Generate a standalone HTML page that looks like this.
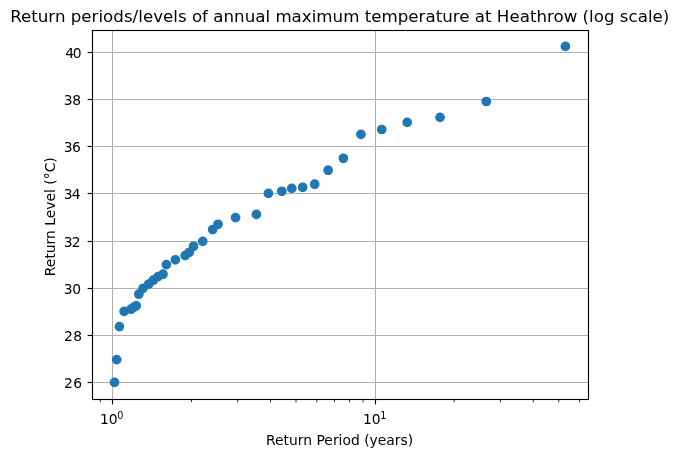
<!DOCTYPE html>
<html><head><meta charset="utf-8"><title>Return periods</title>
<style>
html,body{margin:0;padding:0;background:#fff;}
svg{display:block;will-change:transform;}
.t{font-family:"DejaVu Sans","Liberation Sans",sans-serif;font-size:13.889px;fill:#000;}
.ti{font-family:"DejaVu Sans","Liberation Sans",sans-serif;font-size:16.667px;fill:#000;}
</style></head><body>
<svg width="679" height="457" viewBox="0 0 679 457">
<rect x="0" y="0" width="679" height="457" fill="#fff"/>
<line x1="92.5" y1="52.5" x2="588.5" y2="52.5" stroke="#b0b0b0" stroke-width="1.11"/>
<line x1="92.5" y1="99.5" x2="588.5" y2="99.5" stroke="#b0b0b0" stroke-width="1.11"/>
<line x1="92.5" y1="146.5" x2="588.5" y2="146.5" stroke="#b0b0b0" stroke-width="1.11"/>
<line x1="92.5" y1="193.5" x2="588.5" y2="193.5" stroke="#b0b0b0" stroke-width="1.11"/>
<line x1="92.5" y1="241.5" x2="588.5" y2="241.5" stroke="#b0b0b0" stroke-width="1.11"/>
<line x1="92.5" y1="288.5" x2="588.5" y2="288.5" stroke="#b0b0b0" stroke-width="1.11"/>
<line x1="92.5" y1="335.5" x2="588.5" y2="335.5" stroke="#b0b0b0" stroke-width="1.11"/>
<line x1="92.5" y1="382.5" x2="588.5" y2="382.5" stroke="#b0b0b0" stroke-width="1.11"/>
<line x1="112.5" y1="30.5" x2="112.5" y2="399.5" stroke="#b0b0b0" stroke-width="1.11"/>
<line x1="375.5" y1="30.5" x2="375.5" y2="399.5" stroke="#b0b0b0" stroke-width="1.11"/>
<circle cx="565.42" cy="46.40" r="4.17" fill="#1f77b4" stroke="#1f77b4" stroke-width="1.39"/>
<circle cx="486.32" cy="101.50" r="4.17" fill="#1f77b4" stroke="#1f77b4" stroke-width="1.39"/>
<circle cx="440.04" cy="117.40" r="4.17" fill="#1f77b4" stroke="#1f77b4" stroke-width="1.39"/>
<circle cx="407.21" cy="122.40" r="4.17" fill="#1f77b4" stroke="#1f77b4" stroke-width="1.39"/>
<circle cx="381.75" cy="129.50" r="4.17" fill="#1f77b4" stroke="#1f77b4" stroke-width="1.39"/>
<circle cx="360.94" cy="134.40" r="4.17" fill="#1f77b4" stroke="#1f77b4" stroke-width="1.39"/>
<circle cx="343.35" cy="158.30" r="4.17" fill="#1f77b4" stroke="#1f77b4" stroke-width="1.39"/>
<circle cx="328.11" cy="170.20" r="4.17" fill="#1f77b4" stroke="#1f77b4" stroke-width="1.39"/>
<circle cx="314.67" cy="184.20" r="4.17" fill="#1f77b4" stroke="#1f77b4" stroke-width="1.39"/>
<circle cx="302.65" cy="187.30" r="4.17" fill="#1f77b4" stroke="#1f77b4" stroke-width="1.39"/>
<circle cx="291.77" cy="188.40" r="4.17" fill="#1f77b4" stroke="#1f77b4" stroke-width="1.39"/>
<circle cx="281.84" cy="191.30" r="4.17" fill="#1f77b4" stroke="#1f77b4" stroke-width="1.39"/>
<circle cx="268.40" cy="193.40" r="4.17" fill="#1f77b4" stroke="#1f77b4" stroke-width="1.39"/>
<circle cx="256.38" cy="214.40" r="4.17" fill="#1f77b4" stroke="#1f77b4" stroke-width="1.39"/>
<circle cx="235.57" cy="217.60" r="4.17" fill="#1f77b4" stroke="#1f77b4" stroke-width="1.39"/>
<circle cx="217.98" cy="224.30" r="4.17" fill="#1f77b4" stroke="#1f77b4" stroke-width="1.39"/>
<circle cx="212.67" cy="229.50" r="4.17" fill="#1f77b4" stroke="#1f77b4" stroke-width="1.39"/>
<circle cx="202.74" cy="241.40" r="4.17" fill="#1f77b4" stroke="#1f77b4" stroke-width="1.39"/>
<circle cx="193.61" cy="246.30" r="4.17" fill="#1f77b4" stroke="#1f77b4" stroke-width="1.39"/>
<circle cx="189.30" cy="252.30" r="4.17" fill="#1f77b4" stroke="#1f77b4" stroke-width="1.39"/>
<circle cx="185.15" cy="255.60" r="4.17" fill="#1f77b4" stroke="#1f77b4" stroke-width="1.39"/>
<circle cx="175.39" cy="259.80" r="4.17" fill="#1f77b4" stroke="#1f77b4" stroke-width="1.39"/>
<circle cx="166.40" cy="264.60" r="4.17" fill="#1f77b4" stroke="#1f77b4" stroke-width="1.39"/>
<circle cx="162.99" cy="274.20" r="4.17" fill="#1f77b4" stroke="#1f77b4" stroke-width="1.39"/>
<circle cx="158.06" cy="276.60" r="4.17" fill="#1f77b4" stroke="#1f77b4" stroke-width="1.39"/>
<circle cx="153.34" cy="280.20" r="4.17" fill="#1f77b4" stroke="#1f77b4" stroke-width="1.39"/>
<circle cx="148.81" cy="284.00" r="4.17" fill="#1f77b4" stroke="#1f77b4" stroke-width="1.39"/>
<circle cx="143.03" cy="288.40" r="4.17" fill="#1f77b4" stroke="#1f77b4" stroke-width="1.39"/>
<circle cx="138.88" cy="294.20" r="4.17" fill="#1f77b4" stroke="#1f77b4" stroke-width="1.39"/>
<circle cx="136.19" cy="305.80" r="4.17" fill="#1f77b4" stroke="#1f77b4" stroke-width="1.39"/>
<circle cx="133.57" cy="307.40" r="4.17" fill="#1f77b4" stroke="#1f77b4" stroke-width="1.39"/>
<circle cx="131.00" cy="309.20" r="4.17" fill="#1f77b4" stroke="#1f77b4" stroke-width="1.39"/>
<circle cx="124.11" cy="311.40" r="4.17" fill="#1f77b4" stroke="#1f77b4" stroke-width="1.39"/>
<circle cx="119.44" cy="326.60" r="4.17" fill="#1f77b4" stroke="#1f77b4" stroke-width="1.39"/>
<circle cx="116.72" cy="359.60" r="4.17" fill="#1f77b4" stroke="#1f77b4" stroke-width="1.39"/>
<circle cx="114.50" cy="382.40" r="4.17" fill="#1f77b4" stroke="#1f77b4" stroke-width="1.39"/>
<rect x="92.5" y="30.5" width="496.0" height="369.0" fill="none" stroke="#000" stroke-width="1.11" stroke-linecap="square"/>
<line x1="87.64" y1="52.5" x2="92.5" y2="52.5" stroke="#000" stroke-width="1.11"/>
<text x="65.22 72.86" y="57.50" class="t">40</text>
<line x1="87.64" y1="99.5" x2="92.5" y2="99.5" stroke="#000" stroke-width="1.11"/>
<text x="63.69 72.22" y="104.50" class="t">38</text>
<line x1="87.64" y1="146.5" x2="92.5" y2="146.5" stroke="#000" stroke-width="1.11"/>
<text x="63.69 72.09" y="151.50" class="t">36</text>
<line x1="87.64" y1="193.5" x2="92.5" y2="193.5" stroke="#000" stroke-width="1.11"/>
<text x="63.69 71.72" y="198.50" class="t">34</text>
<line x1="87.64" y1="241.5" x2="92.5" y2="241.5" stroke="#000" stroke-width="1.11"/>
<text x="63.69 71.76" y="246.50" class="t">32</text>
<line x1="87.64" y1="288.5" x2="92.5" y2="288.5" stroke="#000" stroke-width="1.11"/>
<text x="63.69 72.15" y="293.50" class="t">30</text>
<line x1="87.64" y1="335.5" x2="92.5" y2="335.5" stroke="#000" stroke-width="1.11"/>
<text x="63.96 73.27" y="340.50" class="t">28</text>
<line x1="87.64" y1="382.5" x2="92.5" y2="382.5" stroke="#000" stroke-width="1.11"/>
<text x="63.96 73.14" y="387.50" class="t">26</text>
<line x1="112.5" y1="399.5" x2="112.5" y2="404.36" stroke="#000" stroke-width="1.11"/>
<line x1="375.5" y1="399.5" x2="375.5" y2="404.36" stroke="#000" stroke-width="1.11"/>
<line x1="100.31" y1="399.5" x2="100.31" y2="402.28" stroke="#000" stroke-width="0.83"/>
<line x1="191.43" y1="399.5" x2="191.43" y2="402.28" stroke="#000" stroke-width="0.83"/>
<line x1="237.70" y1="399.5" x2="237.70" y2="402.28" stroke="#000" stroke-width="0.83"/>
<line x1="270.53" y1="399.5" x2="270.53" y2="402.28" stroke="#000" stroke-width="0.83"/>
<line x1="296.00" y1="399.5" x2="296.00" y2="402.28" stroke="#000" stroke-width="0.83"/>
<line x1="316.80" y1="399.5" x2="316.80" y2="402.28" stroke="#000" stroke-width="0.83"/>
<line x1="334.40" y1="399.5" x2="334.40" y2="402.28" stroke="#000" stroke-width="0.83"/>
<line x1="349.63" y1="399.5" x2="349.63" y2="402.28" stroke="#000" stroke-width="0.83"/>
<line x1="363.08" y1="399.5" x2="363.08" y2="402.28" stroke="#000" stroke-width="0.83"/>
<line x1="454.20" y1="399.5" x2="454.20" y2="402.28" stroke="#000" stroke-width="0.83"/>
<line x1="500.47" y1="399.5" x2="500.47" y2="402.28" stroke="#000" stroke-width="0.83"/>
<line x1="533.30" y1="399.5" x2="533.30" y2="402.28" stroke="#000" stroke-width="0.83"/>
<line x1="558.77" y1="399.5" x2="558.77" y2="402.28" stroke="#000" stroke-width="0.83"/>
<line x1="579.57" y1="399.5" x2="579.57" y2="402.28" stroke="#000" stroke-width="0.83"/>
<text x="100.05" y="424.0" class="t">10<tspan dx="-0.4" dy="-5.3" font-size="9.7px">0</tspan></text>
<text x="363.05" y="424.0" class="t">10<tspan dx="-0.5" dy="-5.3" font-size="9.7px">1</tspan></text>
<text x="339.60" y="445" text-anchor="middle" class="t">Return Period (years)</text>
<text transform="translate(55,216.7) rotate(-90)" text-anchor="middle" class="t">Return Level (°C)</text>
<text x="339.75" y="21.8" text-anchor="middle" textLength="659.2" lengthAdjust="spacing" class="ti">Return periods/levels of annual maximum temperature at Heathrow (log scale)</text>
</svg>
</body></html>
